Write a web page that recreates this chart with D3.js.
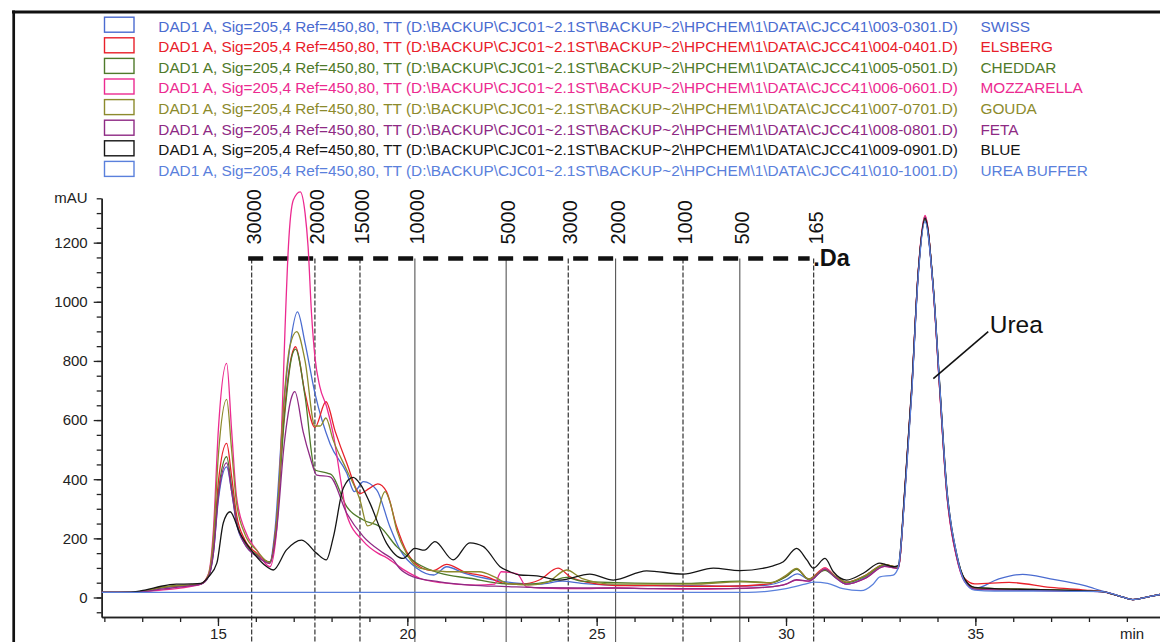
<!DOCTYPE html>
<html>
<head>
<meta charset="utf-8">
<script src="https://cdn.jsdelivr.net/npm/d3@7"></script>
<style>
  html, body { margin: 0; padding: 0; background: #fff; }
  svg { display: block; font-family: "Liberation Sans", Arial, sans-serif; }
</style>
</head>
<body>
<script>
// ---- Samples (legend order) ----
const sampleNames = ["SWISS", "ELSBERG", "CHEDDAR", "MOZZARELLA", "GOUDA", "FETA", "BLUE", "UREA BUFFER"];
const sampleFiles = ["003-0301.D", "004-0401.D", "005-0501.D", "006-0601.D", "007-0701.D", "008-0801.D", "009-0901.D", "010-1001.D"];
const signalPrefix = "DAD1 A, Sig=205,4 Ref=450,80, TT (D:\\BACKUP\\CJC01~2.1ST\\BACKUP~2\\HPCHEM\\1\\DATA\\CJCC41\\";

// ---- Traces: [retention time (min), absorbance (mAU)] ----
const swissPts = [[11.93,17],[12.7,17],[13.1,22],[13.5,32],[13.9,38],[14.3,41],[14.55,45],[14.75,70],[14.88,150],[15.01,330],[15.23,442],[15.36,360],[15.49,250],[15.71,180],[16.02,140],[16.37,118],[16.5,220],[16.72,623],[16.9,848],[17.1,966],[17.3,860],[17.56,691],[17.96,520],[18.4,421],[18.6,358],[18.84,392],[19.19,364],[19.54,239],[19.81,161],[20.25,99],[20.7,76],[21.04,104],[21.5,82],[22.3,59],[22.97,48],[23.5,45],[24.1,55],[24.6,48],[25.5,42],[26.5,40],[27.5,40],[28.5,38],[29.5,42],[30.0,60],[30.3,80],[30.65,58],[31.0,95],[31.3,68],[31.6,45],[32.1,68],[32.6,108],[32.96,100],[33.14,364],[33.32,702],[33.49,1096],[33.67,1275],[33.89,1040],[34.06,702],[34.24,364],[34.51,138],[34.71,60],[34.98,30],[35.62,63],[36.25,78],[36.98,63],[37.89,40],[38.34,22],[38.8,5],[39.16,-7],[39.62,4],[40.2,18]];
const elsbergPts = [[11.93,17],[12.7,17],[13.1,23],[13.5,33],[13.9,39],[14.3,42],[14.55,46],[14.75,75],[14.88,170],[15.01,390],[15.23,521],[15.36,410],[15.49,280],[15.71,195],[16.02,150],[16.37,120],[16.55,260],[16.75,620],[16.95,820],[17.05,848],[17.3,690],[17.56,575],[17.85,662],[18.1,560],[18.4,455],[18.75,352],[19.0,369],[19.22,384],[19.45,358],[19.72,239],[19.98,155],[20.33,104],[20.68,91],[21.04,112],[21.5,87],[22.1,70],[22.55,48],[23.0,45],[23.5,60],[23.98,99],[24.3,70],[24.8,50],[25.5,40],[26.5,40],[27.5,38],[28.5,38],[29.5,45],[30.0,72],[30.28,97],[30.6,62],[31.03,100],[31.3,72],[31.6,52],[32.1,75],[32.6,112],[32.96,102],[33.14,370],[33.32,710],[33.49,1100],[33.67,1290],[33.89,1040],[34.06,700],[34.24,360],[34.51,135],[34.71,65],[34.98,46],[35.89,51],[36.98,34],[37.9,25],[38.34,20],[38.8,5],[39.16,-7],[39.62,4],[40.2,18]];
const cheddarPts = [[11.93,17],[12.7,17],[13.1,23],[13.5,33],[13.9,40],[14.3,42],[14.55,46],[14.75,72],[14.88,160],[15.01,355],[15.23,476],[15.36,375],[15.49,260],[15.71,185],[16.02,145],[16.37,120],[16.55,250],[16.75,600],[16.95,815],[17.05,840],[17.3,680],[17.56,431],[17.91,420],[18.0,415],[18.4,307],[18.84,262],[19.28,239],[19.72,172],[20.25,116],[20.86,82],[21.65,65],[22.62,46],[23.2,45],[23.8,55],[24.2,68],[24.6,55],[25.5,50],[26.5,48],[27.5,48],[28.78,55],[29.6,50],[30.0,70],[30.28,95],[30.6,62],[31.03,92],[31.3,70],[31.6,50],[32.1,72],[32.6,110],[32.96,102],[33.14,360],[33.32,698],[33.49,1090],[33.67,1280],[33.89,1045],[34.06,710],[34.24,370],[34.51,140],[34.71,62],[34.98,32],[35.5,30],[36.5,27],[37.5,24],[38.34,20],[38.8,5],[39.16,-7],[39.62,4],[40.2,18]];
const mozzarellaPts = [[11.93,17],[12.7,17],[13.1,20],[13.5,25],[13.9,30],[14.3,38],[14.55,45],[14.75,80],[14.88,228],[15.01,566],[15.23,792],[15.36,566],[15.49,341],[15.71,228],[16.02,161],[16.37,104],[16.55,228],[16.68,566],[16.77,905],[16.86,1186],[16.99,1344],[17.17,1372],[17.3,1300],[17.38,1186],[17.47,961],[17.56,814],[17.69,713],[17.87,645],[18.04,555],[18.25,390],[18.4,280],[18.84,190],[19.22,150],[19.45,135],[19.89,95],[20.33,65],[20.9,50],[21.8,42],[22.3,45],[22.48,87],[22.9,80],[23.15,36],[23.6,32],[24.5,30],[25.5,32],[26.5,30],[27.5,28],[28.5,30],[29.5,35],[30.0,45],[30.28,59],[30.6,55],[31.03,99],[31.3,70],[31.6,45],[32.1,65],[32.6,105],[32.96,98],[33.14,366],[33.32,705],[33.49,1100],[33.67,1292],[33.89,1038],[34.06,698],[34.24,358],[34.51,132],[34.71,55],[34.98,28],[35.5,26],[36.5,24],[37.5,22],[38.34,20],[38.8,5],[39.16,-7],[39.62,4],[40.2,18]];
const goudaPts = [[11.93,17],[12.7,17],[13.1,23],[13.5,34],[13.9,40],[14.3,42],[14.55,46],[14.75,78],[14.88,200],[15.01,480],[15.23,670],[15.36,500],[15.49,320],[15.71,215],[16.02,160],[16.37,118],[16.55,260],[16.75,679],[16.9,850],[17.08,899],[17.3,800],[17.56,580],[17.7,580],[17.85,607],[18.04,533],[18.4,431],[18.75,330],[18.95,242],[19.15,262],[19.41,358],[19.55,320],[19.72,228],[19.98,149],[20.33,99],[21.04,87],[21.9,87],[22.3,70],[22.63,48],[23.2,42],[23.7,52],[24.21,93],[24.6,65],[25.5,45],[26.5,45],[27.5,45],[28.78,53],[29.6,50],[30.0,75],[30.28,98],[30.6,62],[31.03,95],[31.3,72],[31.6,52],[32.1,75],[32.6,112],[32.96,102],[33.14,362],[33.32,700],[33.49,1094],[33.67,1284],[33.89,1046],[34.06,712],[34.24,372],[34.51,142],[34.71,62],[34.98,33],[35.5,30],[36.5,27],[37.5,24],[38.34,20],[38.8,5],[39.16,-7],[39.62,4],[40.2,18]];
const fetaPts = [[11.93,17],[12.7,17],[13.1,21],[13.5,28],[13.9,34],[14.3,40],[14.55,45],[14.75,70],[14.88,150],[15.01,340],[15.23,455],[15.36,360],[15.49,255],[15.71,180],[16.02,140],[16.37,115],[16.55,230],[16.75,520],[16.95,680],[17.03,696],[17.25,560],[17.43,476],[17.61,414],[17.96,408],[18.4,285],[18.84,206],[19.37,150],[19.63,127],[19.8,98],[20.16,70],[20.86,53],[21.65,42],[22.62,37],[23.5,33],[24.5,32],[25.5,32],[26.5,30],[27.5,30],[28.5,30],[29.5,35],[30.0,45],[30.28,60],[30.6,55],[31.03,95],[31.3,68],[31.6,45],[32.1,65],[32.6,105],[32.96,98],[33.14,360],[33.32,700],[33.49,1092],[33.67,1285],[33.89,1042],[34.06,705],[34.24,366],[34.51,136],[34.71,56],[34.98,28],[35.5,26],[36.5,24],[37.5,22],[38.34,20],[38.8,5],[39.16,-7],[39.62,4],[40.2,18]];
const bluePts = [[11.93,17],[12.7,18],[13.1,26],[13.5,38],[13.9,45],[14.3,46],[14.55,48],[14.75,70],[14.97,116],[15.14,252],[15.32,290],[15.58,217],[15.94,150],[16.29,104],[16.46,93],[16.81,161],[17.21,194],[17.6,150],[17.86,127],[18.05,206],[18.31,370],[18.57,406],[18.75,385],[19.01,320],[19.45,184],[19.89,132],[20.2,166],[20.45,160],[20.73,189],[21.21,127],[21.65,185],[22.01,172],[22.1,161],[22.45,104],[22.71,87],[22.97,76],[23.42,73],[24.03,59],[24.82,79],[25.44,59],[26.32,90],[27.29,79],[28.08,99],[28.78,91],[29.66,107],[29.93,121],[30.28,166],[30.55,127],[30.72,99],[31.03,132],[31.25,87],[31.6,59],[32.04,82],[32.48,116],[32.83,104],[32.96,108],[33.14,372],[33.32,712],[33.49,1098],[33.67,1282],[33.89,1050],[34.06,718],[34.24,378],[34.51,145],[34.71,64],[34.98,34],[35.5,30],[36.5,27],[37.5,24],[38.34,20],[38.8,5],[39.16,-7],[39.62,4],[40.2,18]];
const ureaBufferPts = [[11.93,17.6],[29.0,17.6],[29.5,21],[30.0,30],[30.5,45],[30.73,52],[31.1,48],[31.5,30],[31.98,23],[32.3,45],[32.48,70],[32.83,76],[32.96,100],[33.14,350],[33.32,690],[33.49,1085],[33.67,1270],[33.89,1045],[34.06,715],[34.24,375],[34.51,145],[34.71,55],[34.98,25],[35.5,22],[36.5,22],[37.5,21],[38.34,20],[38.8,5],[39.16,-7],[39.62,4],[40.2,18]];
const seriesPoints = [swissPts, elsbergPts, cheddarPts, mozzarellaPts, goudaPts, fetaPts, bluePts, ureaBufferPts];

// ---- Molecular-weight calibration markers ----
const daLabels = ["30000", "20000", "15000", "10000", "5000", "3000", "2000", "1000", "500", "165"];
const daTimes = [15.89, 17.56, 18.75, 20.20, 22.61, 24.25, 25.50, 27.28, 28.78, 30.73];

// ---- Axis ticks ----
const yTickValues = [0, 200, 400, 600, 800, 1000, 1200];
const xTickValues = [15, 20, 25, 30, 35];

// ---- Drawing ----
const W = 1160, H = 642;
const colors = ["#4a6bd0", "#e8202a", "#4f7a2a", "#ec2a90", "#8c8a2c", "#8e2a84", "#151515", "#5a80dc"];
const font = "'Liberation Sans', Arial, sans-serif";

const svg = d3.select("body").append("svg").attr("width", W).attr("height", H);
svg.append("rect").attr("width", W).attr("height", H).attr("fill", "#fff");

const x = d3.scaleLinear().domain([11.93, 40.5]).range([101.7, 101.7 + 28.57 * 37.87]);
const y = d3.scaleLinear().domain([-66, 1350]).range([617, 198.3]);

// frame
svg.append("line").attr("x1", 12).attr("x2", W).attr("y1", 12).attr("y2", 12)
  .attr("stroke", "#111").attr("stroke-width", 3);
svg.append("line").attr("x1", 13.7).attr("x2", 13.7).attr("y1", 10.5).attr("y2", H)
  .attr("stroke", "#111").attr("stroke-width", 2.7);

// legend: font size chosen so the signal description spans 800 px
const legend = svg.append("g");
const rowY = i => 31.5 + i * 20.6;
const probe = legend.append("text").attr("font-size", 16).attr("font-family", font)
  .text(signalPrefix + sampleFiles[0] + ")");
const legendSize = 16 * 800 / probe.node().getComputedTextLength();
probe.remove();
sampleNames.forEach((name, i) => {
  legend.append("rect").attr("x", 104.5).attr("y", rowY(i) - 14.3).attr("width", 29.5).attr("height", 15)
    .attr("fill", "none").attr("stroke", colors[i]).attr("stroke-width", 1.4);
  legend.append("text").attr("x", 158.3).attr("y", rowY(i))
    .attr("fill", colors[i]).attr("font-size", legendSize).attr("font-family", font)
    .text(signalPrefix + sampleFiles[i] + ")");
  legend.append("text").attr("x", 980.5).attr("y", rowY(i))
    .attr("fill", colors[i]).attr("font-size", legendSize).attr("font-family", font).text(name);
});

// calibration markers: vertical drop lines, dashed level line, labels
const daLevel = 1146;
const solidMarkers = new Set([3, 4, 6, 8]);
const markers = svg.append("g");
daTimes.forEach((t, i) => {
  markers.append("line").attr("x1", x(t)).attr("x2", x(t)).attr("y1", y(daLevel)).attr("y2", H)
    .attr("stroke", solidMarkers.has(i) ? "#555" : "#333")
    .attr("stroke-width", solidMarkers.has(i) ? 1.1 : 1.2)
    .attr("stroke-dasharray", solidMarkers.has(i) ? null : "5,2");
  markers.append("text")
    .attr("transform", `translate(${x(t) + 9},${y(daLevel) - 14}) rotate(-90)`)
    .attr("font-size", 20).attr("font-family", font).attr("fill", "#111")
    .text(daLabels[i]);
});
markers.append("line").attr("x1", x(daTimes[0]) - 3.5).attr("x2", x(daTimes[daTimes.length - 1]) - 4)
  .attr("y1", y(daLevel)).attr("y2", y(daLevel))
  .attr("stroke", "#111").attr("stroke-width", 4.5).attr("stroke-dasharray", "15,10");
markers.append("text").attr("x", x(daTimes[daTimes.length - 1]) - 0.5).attr("y", y(daLevel) + 7)
  .attr("font-size", 23.5).attr("font-weight", "bold").attr("font-family", font).attr("fill", "#111")
  .text(".Da");

// axes
const axisColor = "#222";
function styleAxis(g) {
  g.selectAll("path.domain").attr("stroke", axisColor).attr("stroke-width", 1.5);
  g.selectAll(".tick line").attr("stroke", axisColor).attr("stroke-width", 1.3);
  g.selectAll(".tick text").attr("fill", "#222").attr("font-size", 15).attr("font-family", font);
}
const yMinor = d3.range(-50, 1351, 50);
svg.append("g").attr("transform", "translate(101.7,0)")
  .call(d3.axisLeft(y).tickValues(yMinor).tickSize(5).tickSizeOuter(0).tickFormat(""))
  .call(styleAxis);
svg.append("g").attr("transform", "translate(101.7,0)")
  .call(d3.axisLeft(y).tickValues(yTickValues).tickSize(8).tickPadding(6).tickSizeOuter(0).tickFormat(d3.format("d")))
  .call(styleAxis);
svg.append("text").attr("x", 87.7).attr("y", y(1350)).attr("dy", "0.32em").attr("text-anchor", "end")
  .attr("font-size", 15).attr("font-family", font).attr("fill", "#222").text("mAU");

const xMinor = d3.range(12, 41, 1);
svg.append("g").attr("transform", "translate(0,617)")
  .call(d3.axisBottom(x).tickValues(xMinor).tickSize(5).tickSizeOuter(0).tickFormat(""))
  .call(styleAxis);
svg.append("g").attr("transform", "translate(0,617)")
  .call(d3.axisBottom(x).tickValues(xTickValues).tickSize(9).tickPadding(2).tickSizeOuter(0).tickFormat(d3.format("d")))
  .call(styleAxis);
svg.append("text").attr("x", 1120).attr("y", 639).attr("font-size", 15).attr("font-family", font)
  .attr("fill", "#222").text("min");

// traces
const line = d3.line().x(d => x(d[0])).y(d => y(d[1])).curve(d3.curveMonotoneX);
const traces = svg.append("g").attr("fill", "none").attr("stroke-linejoin", "round");
seriesPoints.forEach((pts, i) => {
  traces.append("path").attr("d", line(pts)).attr("stroke", colors[i]).attr("stroke-width", 1.3);
});

// urea annotation
const ureaAnchor = [33.89, 740];
const ureaLabel = [35.34, 899];
svg.append("line").attr("x1", x(ureaAnchor[0])).attr("y1", y(ureaAnchor[1]))
  .attr("x2", x(ureaLabel[0])).attr("y2", y(ureaLabel[1])).attr("stroke", "#111").attr("stroke-width", 1.6);
svg.append("text").attr("x", x(ureaLabel[0]) + 1.5).attr("y", y(ureaLabel[1]) + 1.5)
  .attr("font-size", 24.5).attr("font-family", font).attr("fill", "#111").text("Urea");
</script>
</body>
</html>
